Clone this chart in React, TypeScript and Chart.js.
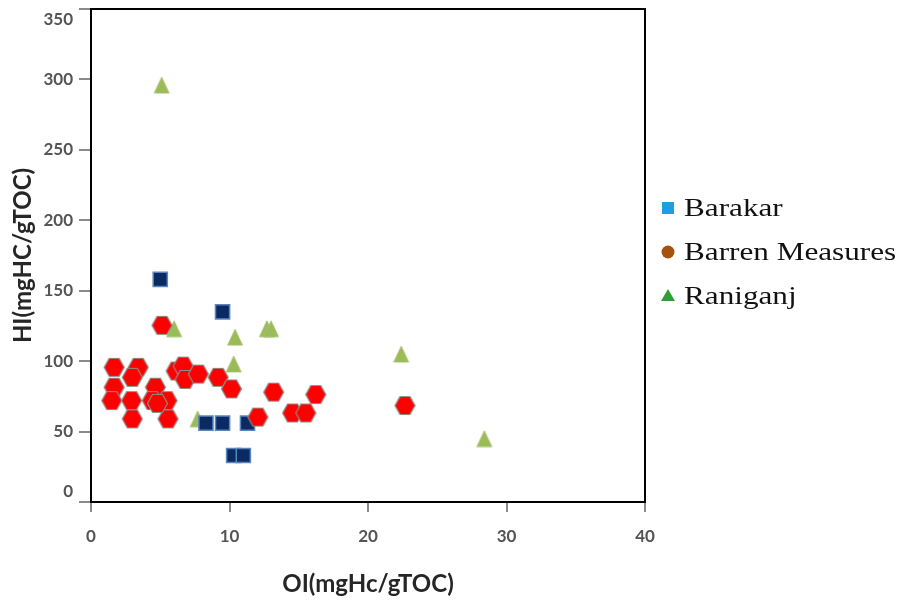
import React, { useEffect, useRef } from "react";
import { Chart, registerables } from "chart.js";

Chart.register(...registerables);

// ---- Data ----
const seriesNames = ["Barakar", "Barren Measures", "Raniganj"];
const xTickValues = [0, 10, 20, 30, 40];
const yTickValues = [0, 50, 100, 150, 200, 250, 300, 350];

const barakarOI = [5.0, 9.5, 8.3, 9.5, 11.3, 10.3, 11.0];
const barakarHI = [158, 135, 56, 56, 56, 33, 33];

const barrenOI = [1.67, 3.41, 2.98, 1.67, 1.5, 2.93, 2.98, 4.65, 4.42, 5.49, 5.56, 5.13, 6.15, 6.66, 6.8, 7.75, 9.18, 10.14, 13.19, 12.05, 16.23, 14.55, 15.51, 22.67, 4.8];
const barrenHI = [95.6, 95.6, 88.5, 81.5, 72, 72, 59, 81.5, 72, 72, 59, 125.4, 93, 96.5, 87, 90.8, 88.5, 80.3, 78, 60.3, 76.3, 63.2, 63.2, 68.5, 70];

const raniganjOI = [5.1, 6.0, 10.4, 12.7, 13.0, 10.3, 7.7, 22.4, 28.4];
const raniganjHI = [296, 123, 117, 123, 123, 98, 59, 105, 45];

const toPoints = (xs: number[], ys: number[]) => xs.map((x, i) => ({ x, y: ys[i] }));

function makeHexagon(r: number, fill: string, stroke: string): HTMLCanvasElement {
  const c = document.createElement("canvas");
  const s = Math.ceil(2 * r + 3);
  c.width = s;
  c.height = s;
  const ctx = c.getContext("2d")!;
  ctx.beginPath();
  for (let i = 0; i < 6; i++) {
    const a = (i * Math.PI) / 3;
    const px = s / 2 + r * Math.cos(a);
    const py = s / 2 + r * Math.sin(a) * 1.04;
    if (i === 0) ctx.moveTo(px, py);
    else ctx.lineTo(px, py);
  }
  ctx.closePath();
  ctx.fillStyle = fill;
  ctx.fill();
  ctx.lineWidth = 1.2;
  ctx.strokeStyle = stroke;
  ctx.stroke();
  return c;
}

function makeTriangle(w: number, h: number, fill: string): HTMLCanvasElement {
  const c = document.createElement("canvas");
  const s = Math.ceil(Math.max(w, h) + 2);
  c.width = s;
  c.height = s;
  const ctx = c.getContext("2d")!;
  const cx = s / 2;
  const cy = s / 2;
  ctx.beginPath();
  ctx.moveTo(cx, cy - h / 2);
  ctx.lineTo(cx + w / 2, cy + h / 2);
  ctx.lineTo(cx - w / 2, cy + h / 2);
  ctx.closePath();
  ctx.fillStyle = fill;
  ctx.fill();
  ctx.lineWidth = 0.8;
  ctx.strokeStyle = "#a6c170";
  ctx.stroke();
  return c;
}

const frameBox = {
  id: "frameBox",
  afterDraw(chart: any) {
    const { ctx, chartArea } = chart;
    ctx.save();
    ctx.strokeStyle = "#000";
    ctx.lineWidth = 2;
    ctx.strokeRect(chartArea.left, chartArea.top, chartArea.right - chartArea.left, chartArea.bottom - chartArea.top);
    ctx.restore();
  },
};

const legendColors = ["#1f9fe0", "#a5520f", "#2f9e36"];

const customLegend = {
  id: "customLegend",
  afterDraw(chart: any) {
    const { ctx, chartArea } = chart;
    const markerX = chartArea.right + 23;
    const textX = chartArea.right + 39;
    const firstY = 200;
    const gap = 44;
    ctx.save();
    seriesNames.forEach((name, i) => {
      const y = firstY + i * gap;
      ctx.fillStyle = legendColors[i];
      ctx.beginPath();
      if (i === 0) {
        ctx.rect(markerX - 6, y - 6, 12, 12);
      } else if (i === 1) {
        ctx.arc(markerX, y, 6.5, 0, Math.PI * 2);
      } else {
        ctx.moveTo(markerX, y - 7);
        ctx.lineTo(markerX + 7, y + 5);
        ctx.lineTo(markerX - 7, y + 5);
        ctx.closePath();
      }
      ctx.fill();
      ctx.save();
      ctx.translate(textX, y);
      ctx.scale(1.2, 1);
      ctx.font = "26px 'Liberation Serif'";
      ctx.fillStyle = "#111";
      ctx.textBaseline = "middle";
      ctx.textAlign = "left";
      ctx.fillText(name, 0, 1);
      ctx.restore();
    });
    ctx.restore();
  },
};

export default function App() {
  const ref = useRef<HTMLCanvasElement | null>(null);

  useEffect(() => {
    if (!ref.current) return;
    const hex = makeHexagon(10, "#ff0000", "#8c8c8c");
    const tri = makeTriangle(15, 16, "#9bbb59");
    const tickFont = { family: "Lato", size: 17, weight: "bold" as const };
    const titleFont = { family: "Lato", size: 24, weight: "bold" as const };
    const yMin = yTickValues[0];
    const yMax = yTickValues[yTickValues.length - 1];
    const chart = new Chart(ref.current, {
      type: "scatter",
      data: {
        datasets: [
          {
            label: seriesNames[0],
            data: toPoints(barakarOI, barakarHI),
            pointStyle: "rect",
            pointRadius: 10,
            pointHoverRadius: 10,
            backgroundColor: "#0c2a62",
            borderColor: "#5a86c0",
            borderWidth: 1.5,
            order: 1,
          },
          {
            label: seriesNames[1],
            data: toPoints(barrenOI, barrenHI),
            pointStyle: hex as any,
            pointRadius: 10,
            pointHoverRadius: 10,
            backgroundColor: "#ff0000",
            borderColor: "#8c8c8c",
            order: 0,
          },
          {
            label: seriesNames[2],
            data: toPoints(raniganjOI, raniganjHI),
            pointStyle: tri as any,
            pointRadius: 9,
            pointHoverRadius: 9,
            backgroundColor: "#9bbb59",
            borderColor: "#9bbb59",
            order: 2,
          },
        ],
      },
      options: {
        animation: false,
        responsive: true,
        maintainAspectRatio: false,
        layout: { autoPadding: false, padding: { top: 1, right: 253, left: 0, bottom: 0 } },
        plugins: { legend: { display: false }, tooltip: { enabled: false } },
        scales: {
          x: {
            type: "linear",
            min: 0,
            max: 40,
            afterBuildTicks: (axis: any) => {
              axis.ticks = xTickValues.map((v) => ({ value: v }));
            },
            afterFit: (axis: any) => {
              axis.height = 98;
              axis.paddingLeft = 0;
              axis.paddingRight = 0;
            },
            ticks: { font: tickFont, color: "#555", padding: 14 },
            grid: { drawOnChartArea: false, drawTicks: true, tickLength: 10, color: "#8a8a8a", lineWidth: 2 },
            border: { display: true, color: "#000", width: 2 },
            title: {
              display: true,
              text: "OI(mgHc/gTOC)",
              font: titleFont,
              color: "#262626",
              padding: { top: 0, bottom: 1 },
            },
          },
          y: {
            type: "linear",
            min: yMin,
            max: yMax,
            afterBuildTicks: (axis: any) => {
              axis.ticks = yTickValues.map((v) => ({ value: v }));
            },
            afterFit: (axis: any) => {
              axis.width = 83;
              axis.paddingTop = 0;
              axis.paddingBottom = 0;
            },
            ticks: {
              font: tickFont,
              color: "#555",
              padding: 6,
              // keep the end labels inside the frame, as in the original
              callback: (v: any) => (v === yMax ? ["", String(v)] : v === yMin ? [String(v), ""] : String(v)),
            },
            grid: { drawOnChartArea: false, drawTicks: true, tickLength: 12, color: "#8a8a8a", lineWidth: 2 },
            border: { display: true, color: "#000", width: 2 },
            title: {
              display: true,
              text: "HI(mgHC/gTOC)",
              font: titleFont,
              color: "#262626",
              padding: { top: 1, bottom: 0 },
            },
          },
        },
      },
      plugins: [frameBox, customLegend],
    });
    return () => chart.destroy();
  }, []);

  return (
    <div style={{ position: "relative", width: "100%", height: 592 }}>
      <canvas ref={ref} />
    </div>
  );
}
